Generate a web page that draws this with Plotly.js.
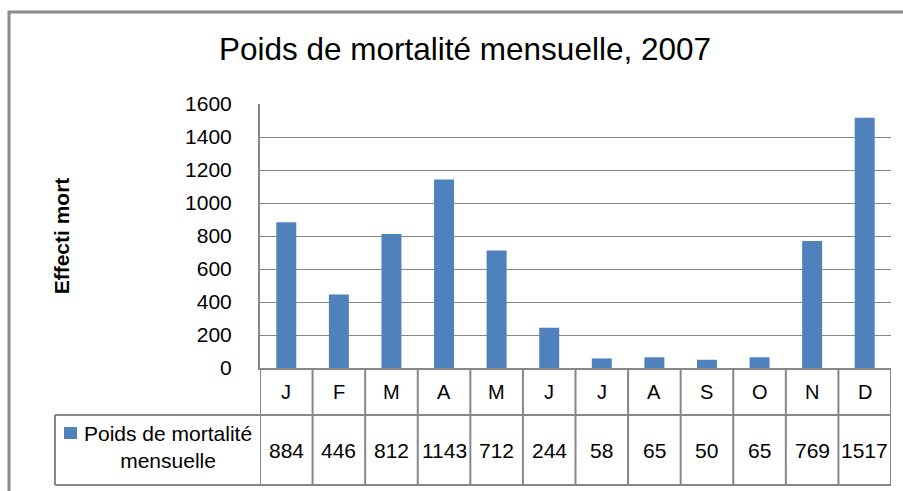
<!DOCTYPE html>
<html>
<head>
<meta charset="utf-8">
<script src="https://cdn.plot.ly/plotly-3.0.1.min.js"></script>
<style>
  html, body { margin: 0; padding: 0; background: #ffffff; }
  #chart { width: 903px; height: 491px; }
</style>
</head>
<body>
<div id="chart"></div>
<script>
const chartTitle = 'Poids de mortalité mensuelle, 2007';
const yAxisTitle = 'Effecti mort';
const seriesName = 'Poids de mortalité mensuelle';
const months = ['J', 'F', 'M', 'A', 'M', 'J', 'J', 'A', 'S', 'O', 'N', 'D'];
const values = [884, 446, 812, 1143, 712, 244, 58, 65, 50, 65, 769, 1517];
const yTickValues = [0, 200, 400, 600, 800, 1000, 1200, 1400, 1600];

const W = 903, H = 491;
const L = 260, R = 891, T = 104, B = 368;
const px = v => (v - L) / (R - L);
const py = v => (B - v) / (B - T);

const FONT = 'Liberation Sans, Arial, sans-serif';
const GRID = '#878787';
const BAR = '#4F81BD';

const idx = months.map((m, i) => i);

const shapes = [];
const lineStyle = { color: GRID, width: 2 };
// table vertical separators
for (let i = 0; i <= months.length; i++) {
  shapes.push({ type: 'line', xref: 'x', yref: 'paper', x0: i - 0.5, x1: i - 0.5,
    y0: 0, y1: py(485), line: lineStyle, layer: 'above' });
}
// table horizontal lines
shapes.push({ type: 'line', xref: 'paper', yref: 'paper', x0: px(55), x1: px(R), y0: py(415), y1: py(415), line: lineStyle });
shapes.push({ type: 'line', xref: 'paper', yref: 'paper', x0: px(55), x1: px(R), y0: py(485), y1: py(485), line: lineStyle });
shapes.push({ type: 'line', xref: 'paper', yref: 'paper', x0: px(55), x1: px(55), y0: py(415), y1: py(485), line: lineStyle });
// legend key square
shapes.push({ type: 'rect', xref: 'paper', yref: 'paper', x0: px(64), x1: px(77), y0: py(439), y1: py(427),
  fillcolor: BAR, line: { width: 0 } });
// outer chart frame
shapes.push({ type: 'rect', xref: 'paper', yref: 'paper', x0: px(9), x1: px(912), y0: py(500), y1: py(12),
  line: { color: '#8a8a8a', width: 3 } });

const annotations = [];
months.forEach((m, i) => {
  annotations.push({ xref: 'x', yref: 'paper', x: i, y: py(392), text: m, showarrow: false,
    xanchor: 'center', yanchor: 'middle', font: { family: FONT, size: 20, color: '#000' } });
  annotations.push({ xref: 'x', yref: 'paper', x: i, y: py(450), text: String(values[i]), showarrow: false,
    xanchor: 'center', yanchor: 'middle', font: { family: FONT, size: 21, color: '#000' } });
});
annotations.push({ xref: 'paper', yref: 'paper', x: px(168), y: py(447),
  text: seriesName.replace(' mensuelle', '<br>mensuelle'), showarrow: false, align: 'center',
  xanchor: 'center', yanchor: 'middle', font: { family: FONT, size: 21, color: '#000' } });

const trace = {
  type: 'bar',
  name: seriesName,
  x: idx,
  y: values,
  marker: { color: BAR, line: { width: 0 } },
  hoverinfo: 'y'
};

const layout = {
  width: W, height: H,
  margin: { l: L, r: W - R, t: T, b: H - B, pad: 0 },
  paper_bgcolor: '#ffffff',
  plot_bgcolor: '#ffffff',
  showlegend: false,
  bargap: 0.62,
  title: {
    text: chartTitle,
    xref: 'container', x: 465 / W, xanchor: 'center',
    yref: 'container', y: 1 - 49 / H, yanchor: 'middle',
    font: { family: FONT, size: 31.5, color: '#000' }
  },
  xaxis: {
    range: [-0.5, months.length - 0.5],
    showticklabels: false, showgrid: false, zeroline: false,
    showline: true, linecolor: GRID, linewidth: 2, ticks: '', fixedrange: true
  },
  yaxis: {
    range: [0, 1600],
    tickvals: yTickValues,
    ticktext: yTickValues.map(String),
    showgrid: true, gridcolor: GRID, gridwidth: 1,
    zeroline: false, showline: true, linecolor: GRID, linewidth: 2,
    ticks: '', ticklabelstandoff: 22,
    tickfont: { family: FONT, size: 21, color: '#000' },
    title: { text: yAxisTitle, standoff: 110,
      font: { family: FONT, size: 21, color: '#000', weight: 'bold' } },
    fixedrange: true
  },
  shapes: shapes,
  annotations: annotations
};

Plotly.newPlot('chart', [trace], layout, { displayModeBar: false, staticPlot: true });
</script>
</body>
</html>
